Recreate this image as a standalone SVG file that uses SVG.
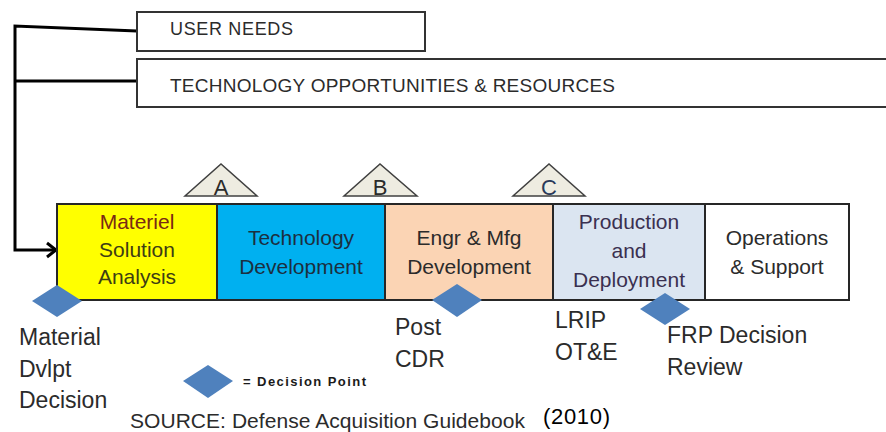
<svg xmlns="http://www.w3.org/2000/svg" width="886" height="432" viewBox="0 0 886 432">
<style>
.box{fill:#fff;stroke:#333;stroke-width:2}
.ph{stroke:#262626;stroke-width:2}
.tri{fill:#EEECE1;stroke:#404040;stroke-width:1.5}
.dia{fill:#4F81BD}
.conn{fill:none;stroke:#000;stroke-width:3;stroke-linejoin:miter}
text{font-family:"Liberation Sans",Arial,sans-serif;fill:#2b2b2b}
.hdr{font-size:18px}
.pt{font-size:21px;text-anchor:middle}
.ms{font-size:22px;text-anchor:middle}
.lb{font-size:23px}
</style>
<g id="connectors">
<path class="conn" d="M137,31 L15,26 L15,250 L54,250"/>
<path class="conn" d="M15,81 L137,81"/>
<path class="conn" d="M47,243 L56,250 L47,257"/>
</g>
<g id="user-needs">
<rect class="box" x="137" y="12" width="288" height="39"/>
<text class="hdr" x="170" y="35" textLength="123" lengthAdjust="spacing">USER NEEDS</text>
</g>
<g id="tech-opps">
<rect class="box" x="137" y="59" width="760" height="48"/>
<text class="hdr" x="170" y="92" style="font-size:19px" textLength="445" lengthAdjust="spacing">TECHNOLOGY OPPORTUNITIES &amp; RESOURCES</text>
</g>
<g id="milestone-a">
<polygon class="tri" points="185,196 257,196 221,164"/>
<text class="ms" x="221" y="195">A</text>
</g>
<g id="milestone-b">
<polygon class="tri" points="344,196 417,196 380,164"/>
<text class="ms" x="380" y="195">B</text>
</g>
<g id="milestone-c">
<polygon class="tri" points="513,196 585,196 549,164"/>
<text class="ms" x="549" y="195" style="fill:#2a3a5a">C</text>
</g>
<g id="phase-msa">
<rect class="ph" x="57" y="204" width="160" height="96" fill="#FFFF00"/>
<text class="pt" x="137" y="229" style="fill:#7a2a14">Materiel</text>
<text class="pt" x="137" y="257" style="fill:#3d3d14">Solution</text>
<text class="pt" x="137" y="284" style="fill:#3d3d14">Analysis</text>
</g>
<g id="phase-td">
<rect class="ph" x="217" y="204" width="168" height="96" fill="#00B0F0"/>
<text class="pt" x="301" y="245" style="fill:#1c2f40">Technology</text>
<text class="pt" x="301" y="274" style="fill:#1c2f40">Development</text>
</g>
<g id="phase-emd">
<rect class="ph" x="385" y="204" width="168" height="96" fill="#FBD4B4"/>
<text class="pt" x="469" y="245">Engr &amp; Mfg</text>
<text class="pt" x="469" y="274">Development</text>
</g>
<g id="phase-pd">
<rect class="ph" x="553" y="204" width="152" height="96" fill="#DBE5F1"/>
<text class="pt" x="629" y="229" style="fill:#3a3050">Production</text>
<text class="pt" x="629" y="258" style="fill:#3a3050">and</text>
<text class="pt" x="629" y="287" style="fill:#3a3050">Deployment</text>
</g>
<g id="phase-os">
<rect class="ph" x="705" y="204" width="144" height="96" fill="#FFFFFF"/>
<text class="pt" x="777" y="245">Operations</text>
<text class="pt" x="777" y="274">&amp; Support</text>
</g>
<g id="decision-mdd">
<polygon class="dia" points="32,301 57,285 82,301 57,317"/>
<text class="lb" x="19" y="345">Material</text>
<text class="lb" x="19" y="377">Dvlpt</text>
<text class="lb" x="19" y="408">Decision</text>
</g>
<g id="decision-cdr">
<polygon class="dia" points="432,300 457,284 482,300 457,317"/>
<text class="lb" x="395" y="335">Post</text>
<text class="lb" x="395" y="367">CDR</text>
</g>
<g id="label-lrip">
<text class="lb" x="555" y="328">LRIP</text>
<text class="lb" x="555" y="360">OT&amp;E</text>
</g>
<g id="decision-frp">
<polygon class="dia" points="640,309 665,293 690,309 665,325"/>
<text class="lb" x="667" y="343">FRP Decision</text>
<text class="lb" x="667" y="375">Review</text>
</g>
<g id="legend">
<polygon class="dia" points="183,381 208,365 233,381 208,398"/>
<text x="243" y="386" style="font-size:13px;font-weight:bold;fill:#1a1a1a" textLength="123" lengthAdjust="spacing">= Decision Point</text>
</g>
<g id="source">
<text x="130" y="428" style="font-size:21px" textLength="395" lengthAdjust="spacing">SOURCE: Defense Acquisition Guidebook</text>
<text x="543" y="424" style="font-size:22px;fill:#000" textLength="67" lengthAdjust="spacing">(2010)</text>
</g>
</svg>
